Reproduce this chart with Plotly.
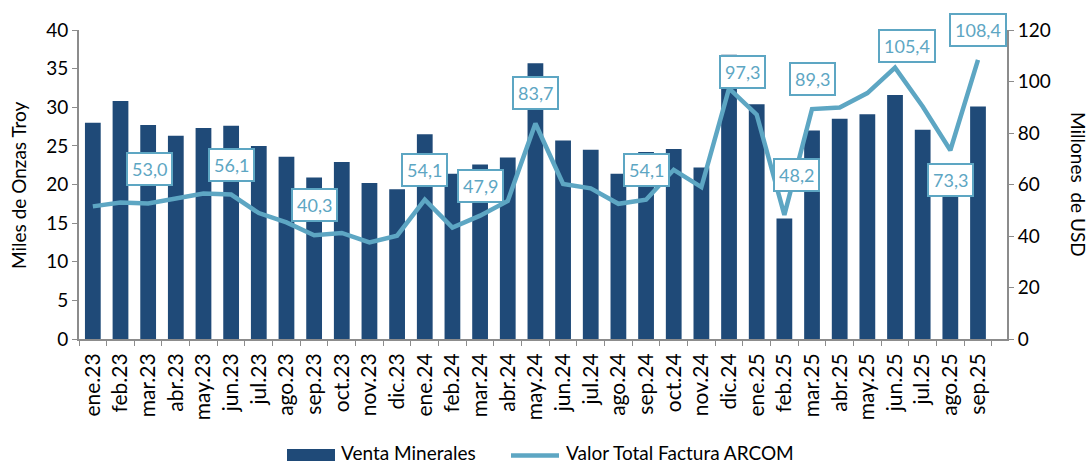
import plotly.graph_objects as go

months = ["ene.23","feb.23","mar.23","abr.23","may.23","jun.23","jul.23","ago.23","sep.23","oct.23","nov.23","dic.23",
          "ene.24","feb.24","mar.24","abr.24","may.24","jun.24","jul.24","ago.24","sep.24","oct.24","nov.24","dic.24",
          "ene.25","feb.25","mar.25","abr.25","may.25","jun.25","jul.25","ago.25","sep.25"]

venta_minerales = [28.0, 30.8, 27.7, 26.3, 27.3, 27.6, 25.0, 23.6, 20.9, 22.9, 20.2, 19.4,
                   26.5, 21.4, 22.6, 23.5, 35.7, 25.7, 24.5, 21.4, 24.2, 24.6, 22.2, 36.8,
                   30.4, 15.6, 27.0, 28.5, 29.1, 31.6, 27.1, 22.0, 30.1]

valor_factura = [51.5, 53.0, 52.6, 54.4, 56.5, 56.1, 48.9, 45.3, 40.3, 41.2, 37.5, 40.1,
                 54.1, 43.3, 47.9, 53.6, 83.7, 60.2, 58.5, 52.5, 54.1, 65.7, 59.0, 97.3,
                 87.1, 48.2, 89.3, 89.9, 95.5, 105.4, 90.3, 73.3, 108.4]

labeled_months = ["feb.23","jun.23","sep.23","ene.24","mar.24","may.24","sep.24","dic.24",
                  "feb.25","mar.25","jun.25","ago.25","sep.25"]
# label offsets in pixels (xshift, yshift)
label_offsets = {"feb.23": (29, 34), "dic.24": (13, 16), "feb.25": (12, 40),
                 "jun.25": (12, 22), "ago.25": (0, -30)}

BAR = "#1F4A78"
LINE = "#5DA6C3"
AXIS = "#8C8C8C"
FONT = "Lato"
FS = 19

W, H = 1090, 464
L, T = 79, 30
R = W - 1007
B = H - 339
PW, PH = W - L - R, H - T - B

def px(x):
    return (x - L) / PW

def py(y):
    return (H - B - y) / PH

fig = go.Figure()
fig.add_trace(go.Bar(x=months, y=venta_minerales, name="Venta Minerales",
                     marker=dict(color=BAR, line=dict(width=0)), yaxis="y"))
fig.add_trace(go.Scatter(x=months, y=valor_factura, name="Valor Total Factura ARCOM",
                         mode="lines", line=dict(color=LINE, width=4.5), yaxis="y2"))

for m in labeled_months:
    i = months.index(m)
    v = valor_factura[i]
    xs, ys = label_offsets.get(m, (0, 30))
    fig.add_annotation(x=m, y=v, xref="x", yref="y2", text=f"{v:.1f}".replace(".", ","),
                       showarrow=False, xshift=xs, yshift=ys,
                       font=dict(family=FONT, size=18, color=LINE),
                       bgcolor="white", bordercolor=LINE, borderwidth=2, borderpad=4)

# axis titles
fig.add_annotation(x=px(1079), y=py(184), xref="paper", yref="paper", text="Millones  de USD",
                   textangle=90, showarrow=False, xanchor="center", yanchor="middle",
                   font=dict(family=FONT, size=FS, color="black"))
fig.add_annotation(x=px(19), y=py(185), xref="paper", yref="paper", text="Miles de Onzas Troy",
                   textangle=-90, showarrow=False, xanchor="center", yanchor="middle",
                   font=dict(family=FONT, size=FS, color="black"))

# custom legend
fig.add_shape(type="rect", xref="paper", yref="paper", x0=px(287), x1=px(335), y0=py(461), y1=py(449),
              fillcolor=BAR, line=dict(width=0))
fig.add_annotation(x=px(339), y=py(452), xref="paper", yref="paper", text="Venta Minerales",
                   xanchor="left", yanchor="middle", showarrow=False,
                   font=dict(family=FONT, size=FS, color="black"))
fig.add_shape(type="line", xref="paper", yref="paper", x0=px(511), x1=px(559), y0=py(455.5), y1=py(455.5),
              line=dict(color=LINE, width=4.5))
fig.add_annotation(x=px(564), y=py(452), xref="paper", yref="paper", text="Valor Total Factura ARCOM",
                   xanchor="left", yanchor="middle", showarrow=False,
                   font=dict(family=FONT, size=FS, color="black"))

fig.update_layout(
    width=W, height=H,
    margin=dict(l=L, r=R, t=T, b=B, autoexpand=False),
    plot_bgcolor="white", paper_bgcolor="white",
    font=dict(family=FONT, size=FS, color="black"),
    bargap=0.43,
    showlegend=False,
    xaxis=dict(type="category", tickangle=-90, showline=True, linecolor=AXIS, linewidth=2,
               ticks="outside", tickson="boundaries", ticklen=5, tickcolor=AXIS, automargin=False,
               ticklabelstandoff=4,
               showgrid=False, tickfont=dict(family=FONT, size=21)),
    yaxis=dict(range=[0, 40], dtick=5, showline=True, linecolor=AXIS, linewidth=2, automargin=False,
               ticks="outside", ticklen=5, tickcolor=AXIS, showgrid=False, zeroline=False,
               tickfont=dict(family=FONT, size=FS)),
    yaxis2=dict(range=[0, 120], dtick=20, overlaying="y", side="right", showline=True, automargin=False,
                linecolor=AXIS, linewidth=2, ticks="outside", ticklen=5, tickcolor=AXIS,
                showgrid=False, zeroline=False, tickfont=dict(family=FONT, size=FS)),
)

fig.write_html("out.html", config={"displayModeBar": False},
               post_script="document.body.style.margin='0';document.body.style.overflow='hidden';")
